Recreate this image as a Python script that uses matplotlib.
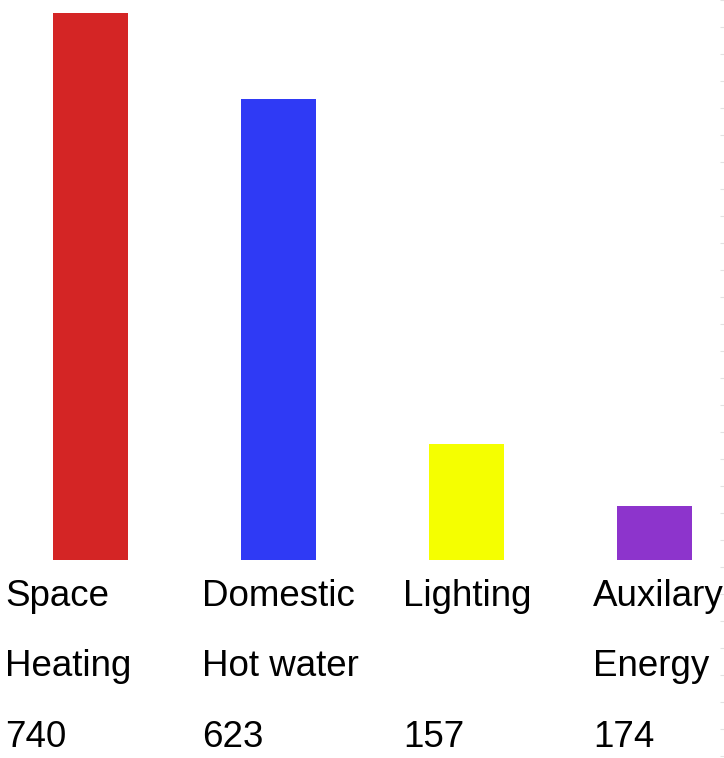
import numpy as np
import matplotlib.pyplot as plt
from matplotlib.ticker import MultipleLocator

# data
categories = ["Space Heating", "Domestic Hot water", "Lighting", "Auxilary Energy"]
label_top = ["Space", "Domestic", "Lighting", "Auxilary"]
label_bottom = ["Heating", "Hot water", "", "Energy"]
label_values = [740, 623, 157, 174]
bar_heights = [740, 623, 157, 73]
bar_colors = ["#d42525", "#2f3af5", "#f5ff00", "#8d34cc"]

W, H = 724, 758
fig = plt.figure(figsize=(W / 100, H / 100), dpi=100)

# bars area: y 13..560 px, bar centres 188 px apart
ax = fig.add_axes([0, (H - 560) / H, 1, 547 / H])
x = np.arange(len(categories))
ax.bar(x, bar_heights, width=0.4, color=bar_colors)
ax.set_xlim(-90.5 / 188, (W - 90.5) / 188)
ax.set_ylim(0, 740)
ax.axis("off")

# faint tick marks at the right edge
ax2 = fig.add_axes([0, 0, 1, 1], facecolor="none")
ax2.set_ylim(H, 0)
ax2.set_xlim(0, W)
for s in ax2.spines.values():
    s.set_visible(False)
ax2.set_xticks([])
ax2.yaxis.tick_right()
ax2.yaxis.set_major_locator(MultipleLocator(27))
ax2.tick_params(axis="y", direction="in", length=3, color="#e2e2e2", labelright=False)

# labels under the bars
text_x = [5, 202, 403, 593]
rows = [label_top, label_bottom, [str(v) for v in label_values]]
baselines = [606, 676, 747]
for row, yb in zip(rows, baselines):
    for tx, t in zip(text_x, row):
        fig.text(tx / W, (H - yb) / H, t, fontsize=26.5, family="Liberation Sans",
                 va="baseline", ha="left", color="black")

fig.savefig("out.png", dpi=100)
